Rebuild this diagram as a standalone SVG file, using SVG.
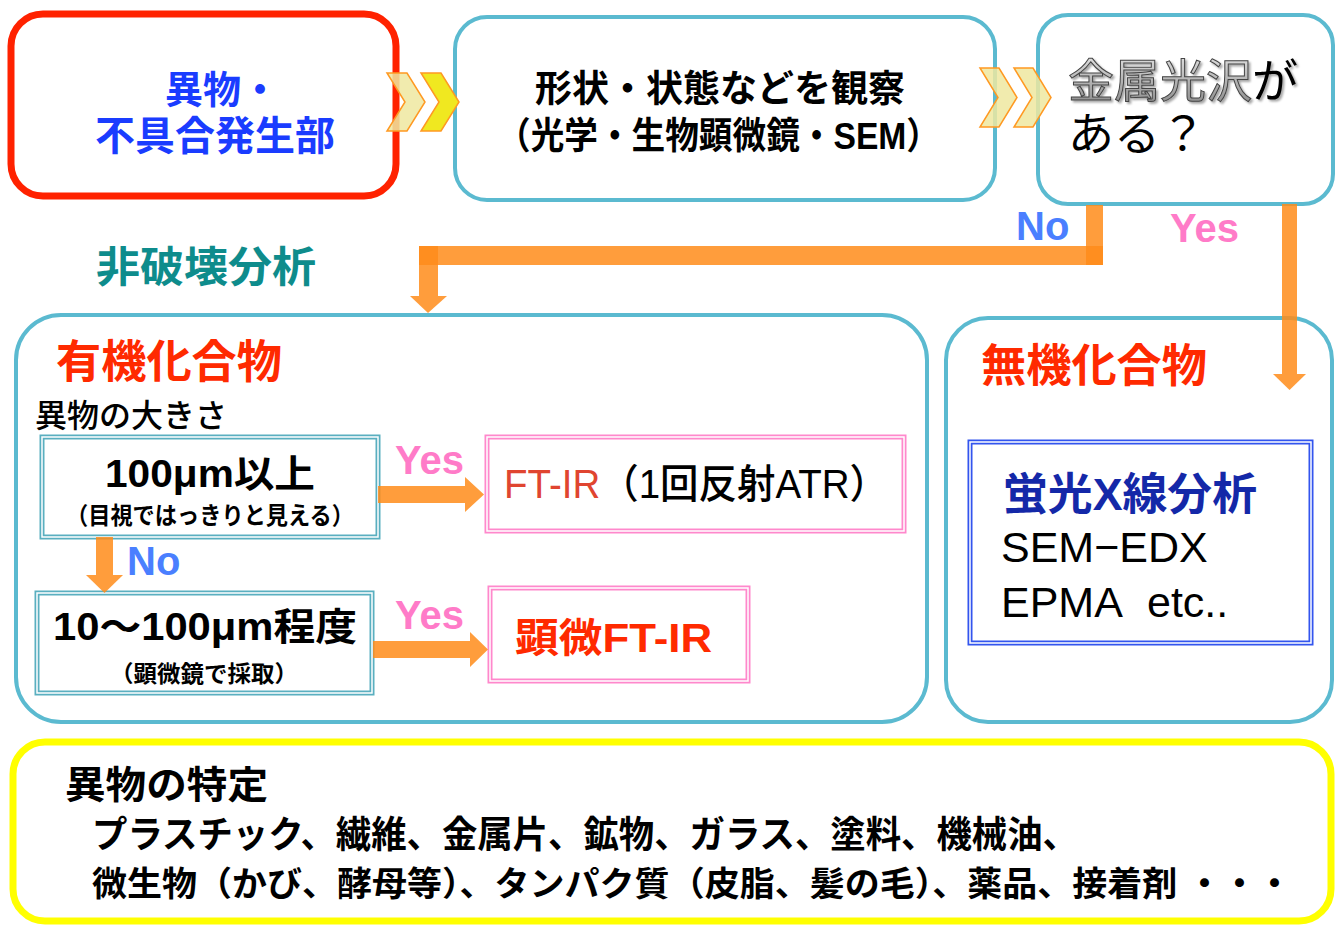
<svg xmlns="http://www.w3.org/2000/svg" width="1342" height="934" viewBox="0 0 1342 934">
<defs>
<style>
.jp{font-family:"Liberation Sans","Noto Sans CJK JP",sans-serif;}
.b{font-weight:bold;}
.node{fill:#fff;stroke:#5BBAD0;stroke-width:4;}
.orange{fill:#FF8C1A;opacity:0.85;}
.chevA{fill:#EEE8A0;fill-opacity:0.85;stroke:#FF9922;stroke-width:1.5;}
.chevB{fill:#F0E820;stroke:#FF9922;stroke-width:1.5;}
.yes{fill:#FF7BC8;font-family:"Liberation Sans",sans-serif;font-weight:bold;}
.no{fill:#4A7FFF;font-family:"Liberation Sans",sans-serif;font-weight:bold;}
</style>
<linearGradient id="metal" x1="0" y1="0" x2="0" y2="1">
<stop offset="0" stop-color="#e0e0e0"/>
<stop offset="1" stop-color="#888"/>
</linearGradient>
<filter id="shadow" x="-10%" y="-10%" width="130%" height="140%">
<feDropShadow dx="2" dy="2" stdDeviation="1" flood-color="#000" flood-opacity="0.35"/>
</filter>
</defs>
<rect width="1342" height="934" fill="#fff"/>

<g id="node-origin">
<rect x="11" y="14" width="385" height="182" rx="32" fill="#fff" stroke="#FF2200" stroke-width="7"/>
<text class="jp b" x="165" y="103" font-size="38" fill="#1A3CFF">異物・</text>
<text class="jp b" x="95" y="150" font-size="40" fill="#1A3CFF" textLength="240" lengthAdjust="spacingAndGlyphs">不具合発生部</text>
</g>

<g id="node-observe">
<rect class="node" x="455" y="17" width="540" height="183" rx="32"/>
<text class="jp b" x="535" y="102" font-size="37" fill="#000" textLength="370" lengthAdjust="spacingAndGlyphs">形状・状態などを観察</text>
<text class="jp b" x="497" y="149" font-size="37" fill="#000" textLength="443" lengthAdjust="spacingAndGlyphs">（光学・生物顕微鏡・SEM）</text>
</g>

<g id="node-metal">
<rect class="node" x="1038" y="15" width="295" height="189" rx="30"/>
<text class="jp" x="1068" y="97" font-size="46" fill="url(#metal)" stroke="#444" stroke-width="1" filter="url(#shadow)">金属光沢<tspan fill="#000" stroke="none">が</tspan></text>
<text class="jp" x="1068" y="150" font-size="46" fill="#000">ある？</text>
</g>

<g id="label-nondestructive">
<text class="jp b" x="96" y="282" font-size="42" fill="#0E8C8C" textLength="220" lengthAdjust="spacingAndGlyphs">非破壊分析</text>
</g>

<g id="node-organic">
<rect class="node" x="16" y="315" width="911" height="407" rx="45"/>
<text class="jp b" x="56" y="378" font-size="45" fill="#FF2A00" textLength="226" lengthAdjust="spacingAndGlyphs">有機化合物</text>
<text class="jp" x="35" y="427" font-size="32" fill="#000" font-weight="500" textLength="192" lengthAdjust="spacingAndGlyphs">異物の大きさ</text>
</g>

<g id="node-large">
<rect x="42" y="437" width="336" height="100" fill="#fff" stroke="#5AAFC0" stroke-width="5"/>
<rect x="42" y="437" width="336" height="100" fill="none" stroke="#fff" stroke-width="1.5"/>
<text class="jp b" x="105" y="487" font-size="38" fill="#000" textLength="210" lengthAdjust="spacingAndGlyphs">100μm以上</text>
<text class="jp b" x="66" y="524" font-size="24" fill="#000" textLength="288" lengthAdjust="spacingAndGlyphs">（目視ではっきりと見える）</text>
</g>

<g id="node-small">
<rect x="37" y="593" width="335" height="100" fill="#fff" stroke="#5AAFC0" stroke-width="5"/>
<rect x="37" y="593" width="335" height="100" fill="none" stroke="#fff" stroke-width="1.5"/>
<text class="jp b" x="53" y="640" font-size="38" fill="#000" textLength="304" lengthAdjust="spacingAndGlyphs">10〜100μm程度</text>
<text class="jp b" x="110" y="682" font-size="23" fill="#000" textLength="188" lengthAdjust="spacingAndGlyphs">（顕微鏡で採取）</text>
</g>

<g id="node-ftir">
<rect x="487" y="437" width="417" height="94" fill="#fff" stroke="#FF88CC" stroke-width="5"/>
<rect x="487" y="437" width="417" height="94" fill="none" stroke="#fff" stroke-width="1.5"/>
<text class="jp" x="504" y="498" font-size="40" fill="#E04530" font-weight="500" textLength="384" lengthAdjust="spacingAndGlyphs">FT-IR<tspan fill="#000">（1回反射ATR）</tspan></text>
</g>

<g id="node-micro-ftir">
<rect x="490" y="588" width="258" height="93" fill="#fff" stroke="#FF88CC" stroke-width="5"/>
<rect x="490" y="588" width="258" height="93" fill="none" stroke="#fff" stroke-width="1.5"/>
<text class="jp b" x="515" y="652" font-size="40" fill="#FF2A00" textLength="197" lengthAdjust="spacingAndGlyphs">顕微FT-IR</text>
</g>

<g id="node-inorganic">
<rect class="node" x="946" y="318" width="386" height="404" rx="42"/>
<text class="jp b" x="981" y="382" font-size="45" fill="#FF2A00" textLength="226" lengthAdjust="spacingAndGlyphs">無機化合物</text>
</g>

<g id="node-xray">
<rect x="970" y="442" width="341" height="201" fill="#fff" stroke="#3355EE" stroke-width="5"/>
<rect x="970" y="442" width="341" height="201" fill="none" stroke="#fff" stroke-width="1.5"/>
<text class="jp b" x="1003" y="510" font-size="44" fill="#1428A8" textLength="254" lengthAdjust="spacingAndGlyphs">蛍光X線分析</text>
<text class="jp" x="1001" y="562" font-size="43" fill="#000">SEM−EDX</text>
<text class="jp" x="1001" y="617" font-size="43" fill="#000">EPMA <tspan x="1147">etc..</tspan></text>
</g>

<g id="node-identify">
<rect x="13" y="742" width="1318" height="179" rx="32" fill="#fff" stroke="#FFFF00" stroke-width="7"/>
<text class="jp b" x="65" y="798" font-size="38" fill="#000" textLength="203" lengthAdjust="spacingAndGlyphs">異物の特定</text>
<text class="jp b" x="92" y="848" font-size="37" fill="#000" textLength="986" lengthAdjust="spacingAndGlyphs">プラスチック、繊維、金属片、鉱物、ガラス、塗料、機械油、</text>
<text class="jp b" x="92" y="896" font-size="34" fill="#000" textLength="1200" lengthAdjust="spacingAndGlyphs">微生物（かび、酵母等）、タンパク質（皮脂、髪の毛）、薬品、接着剤 ・・・</text>
</g>

<g id="connectors">
<path class="chevA" d="M387,73 L407,73 L425,102 L407,131 L387,131 L405,102 Z"/>
<path class="chevB" d="M421,73 L441,73 L459,102 L441,131 L421,131 L439,102 Z"/>
<path class="chevA" d="M980,68 L999,68 L1017,97.5 L999,127 L980,127 L998,97.5 Z"/>
<path class="chevA" d="M1014,68 L1033,68 L1051,97.5 L1033,127 L1014,127 L1032,97.5 Z"/>
<rect class="orange" x="1086" y="205" width="17" height="60"/>
<rect class="orange" x="419" y="246" width="684" height="19"/>
<rect class="orange" x="419" y="246" width="19" height="50"/>
<path class="orange" d="M410,296 L447,296 L428,313 Z"/>
<rect class="orange" x="1282" y="204" width="15" height="170"/>
<path class="orange" d="M1273,374 L1306,374 L1289.5,390 Z"/>
<rect class="orange" x="96" y="537" width="17" height="38"/>
<path class="orange" d="M86,575 L123,575 L104.5,593 Z"/>
<path class="orange" d="M378,486 L465,486 L465,477 L484,494.5 L465,512 L465,503 L378,503 Z"/>
<path class="orange" d="M373,641 L470,641 L470,632 L488,649.5 L470,667 L470,658 L373,658 Z"/>
<text class="no" x="1016" y="240" font-size="40">No</text>
<text class="yes" x="1170" y="242" font-size="40">Yes</text>
<text class="yes" x="395" y="474" font-size="40">Yes</text>
<text class="no" x="127" y="575" font-size="40">No</text>
<text class="yes" x="395" y="629" font-size="40">Yes</text>
</g>
</svg>
